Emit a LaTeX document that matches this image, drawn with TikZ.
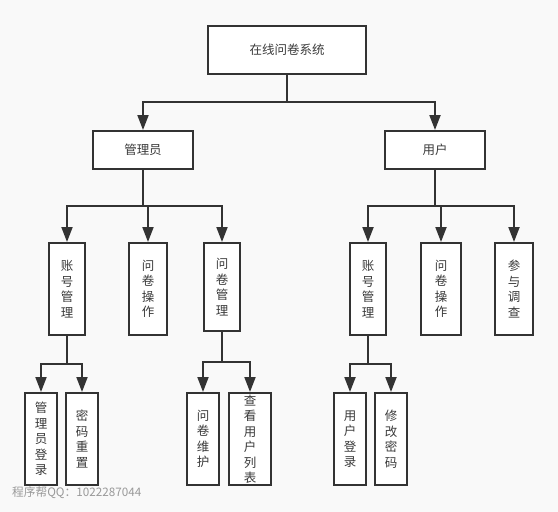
\documentclass[tikz,border=0pt]{standalone}
\usepackage{fontspec}
\newfontfamily\cjk{Noto Sans CJK SC}
\usetikzlibrary{arrows.meta}
\definecolor{lineclr}{HTML}{333333}
\definecolor{txtclr}{HTML}{3A3A3A}
\definecolor{bgclr}{HTML}{F9F9F9}
\tikzset{
    box/.style={draw=lineclr, line width=2pt, fill=white, text=txtclr, inner sep=0pt,
        font=\cjk\fontsize{12.5}{15.5}\selectfont},
    vbox/.style={box, align=center, minimum height=92pt},
    arr/.style={draw=lineclr, line width=2pt, -{Triangle[length=15pt,width=11pt]}},
}
\begin{document}
\begin{tikzpicture}[x=1pt,y=-1pt]
    \fill[bgclr] (0,0) rectangle (558,512);
    \useasboundingbox (0,0) rectangle (558,512);
    % levels 1 and 2
    \node[box, minimum width=158pt, minimum height=48pt] (root)  at (287,50)  {在线问卷系统};
    \node[box, minimum width=100pt, minimum height=38pt] (admin) at (143,150) {管理员};
    \node[box, minimum width=100pt, minimum height=38pt] (user)  at (435,150) {用户};
    % level 3
    \node[vbox, minimum width=36pt] (adminacc) at (67,289)  {账\\号\\管\\理};
    \node[vbox, minimum width=38pt] (adminop)  at (148,289) {问\\卷\\操\\作};
    \node[vbox, minimum width=36pt, minimum height=88pt] (adminmgr) at (222,287) {问\\卷\\管\\理};
    \node[vbox, minimum width=36pt] (userac)   at (368,289) {账\\号\\管\\理};
    \node[vbox, minimum width=40pt] (userop)   at (441,289) {问\\卷\\操\\作};
    \node[vbox, minimum width=38pt] (survey)   at (514,289) {参\\与\\调\\查};
    % level 4
    \node[vbox, minimum width=32pt] (login)  at (41,439)  {管\\理\\员\\登\\录};
    \node[vbox, minimum width=32pt] (reset)  at (82,439)  {密\\码\\重\\置};
    \node[vbox, minimum width=32pt] (maint)  at (203,439) {问\\卷\\维\\护};
    \node[vbox, minimum width=42pt] (list)   at (250,439) {查\\看\\用\\户\\列\\表};
    \node[vbox, minimum width=32pt] (ulogin) at (350,439) {用\\户\\登\\录};
    \node[vbox, minimum width=32pt] (chpwd)  at (391,439) {修\\改\\密\\码};
    % connectors
    \draw[arr] (root.south) -- ++(0,27) -| (admin.north);
    \draw[arr] (root.south) -- ++(0,27) -| (user.north);
    \draw[arr] (admin.south) -- ++(0,36) -| (adminacc.north);
    \draw[arr] (admin.south) -- ++(0,36) -| (adminop.north);
    \draw[arr] (admin.south) -- ++(0,36) -| (adminmgr.north);
    \draw[arr] (user.south) -- ++(0,36) -| (userac.north);
    \draw[arr] (user.south) -- ++(0,36) -| (userop.north);
    \draw[arr] (user.south) -- ++(0,36) -| (survey.north);
    \draw[arr] (adminacc.south) -- ++(0,28) -| (login.north);
    \draw[arr] (adminacc.south) -- ++(0,28) -| (reset.north);
    \draw[arr] (adminmgr.south) -- ++(0,30) -| (maint.north);
    \draw[arr] (adminmgr.south) -- ++(0,30) -| (list.north);
    \draw[arr] (userac.south) -- ++(0,28) -| (ulogin.north);
    \draw[arr] (userac.south) -- ++(0,28) -| (chpwd.north);
    % watermark
    \node[anchor=west, text=black!40, inner sep=0pt, font=\cjk\fontsize{11.7}{13}\selectfont] (mark) at (12,493) {程序帮QQ：1022287044};
\end{tikzpicture}
\end{document}
